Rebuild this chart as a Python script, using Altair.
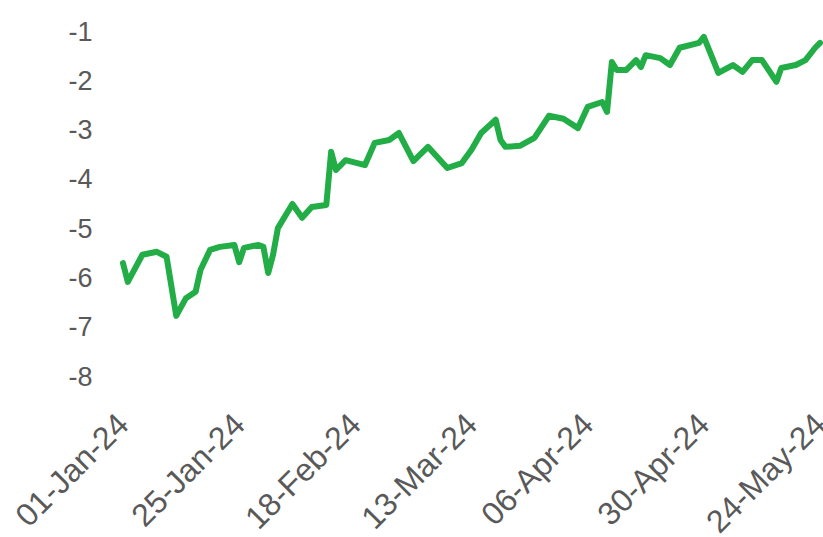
import altair as alt
import pandas as pd

dates = [
    "2024-01-01", "2024-01-02", "2024-01-05", "2024-01-08", "2024-01-10", "2024-01-12",
    "2024-01-14", "2024-01-16", "2024-01-17", "2024-01-19", "2024-01-21", "2024-01-24",
    "2024-01-25", "2024-01-26", "2024-01-29", "2024-01-30", "2024-01-31", "2024-02-01",
    "2024-02-02", "2024-02-05", "2024-02-07", "2024-02-09", "2024-02-12", "2024-02-13",
    "2024-02-14", "2024-02-16", "2024-02-20", "2024-02-22", "2024-02-25", "2024-02-27",
    "2024-03-01", "2024-03-04", "2024-03-08", "2024-03-11", "2024-03-13", "2024-03-15",
    "2024-03-18", "2024-03-19", "2024-03-20", "2024-03-23", "2024-03-26", "2024-03-29",
    "2024-04-01", "2024-04-04", "2024-04-06", "2024-04-09", "2024-04-10", "2024-04-11",
    "2024-04-12", "2024-04-14", "2024-04-16", "2024-04-17", "2024-04-18", "2024-04-21",
    "2024-04-23", "2024-04-25", "2024-04-29", "2024-04-30", "2024-05-03", "2024-05-06",
    "2024-05-08", "2024-05-10", "2024-05-12", "2024-05-15", "2024-05-16", "2024-05-19",
    "2024-05-21", "2024-05-23", "2024-05-24",
]

values = [
    -5.69, -6.07, -5.52, -5.46, -5.56, -6.76,
    -6.40, -6.27, -5.83, -5.42, -5.36, -5.32,
    -5.67, -5.38, -5.32, -5.36, -5.89, -5.52,
    -4.98, -4.49, -4.77, -4.55, -4.51, -3.43,
    -3.80, -3.60, -3.70, -3.25, -3.19, -3.05,
    -3.62, -3.33, -3.76, -3.66, -3.39, -3.05,
    -2.78, -3.19, -3.33, -3.31, -3.15, -2.70,
    -2.76, -2.95, -2.52, -2.42, -2.62, -1.61,
    -1.77, -1.77, -1.57, -1.71, -1.47, -1.53,
    -1.67, -1.32, -1.22, -1.10, -1.83, -1.67,
    -1.81, -1.57, -1.57, -2.01, -1.73, -1.67,
    -1.57, -1.32, -1.22,
]

tick_dates = ["2024-01-01", "2024-01-25", "2024-02-18", "2024-03-13",
              "2024-04-06", "2024-04-30", "2024-05-24"]
y_ticks = [-8, -7, -6, -5, -4, -3, -2, -1]

df = pd.DataFrame({"date": pd.to_datetime(dates), "value": values})

tick_vals = [alt.DateTime(year=int(d[:4]), month=int(d[5:7]), date=int(d[8:10])) for d in tick_dates]

font = "Liberation Sans"
label_color = "#595959"

chart = alt.Chart(df).mark_line(
    color="#22ad47", strokeWidth=6, strokeJoin="round", strokeCap="round"
).encode(
    x=alt.X(
        "date:T",
        scale=alt.Scale(domain=[alt.DateTime(year=2024, month=1, date=1),
                                alt.DateTime(year=2024, month=5, date=24)]),
        axis=alt.Axis(
            values=tick_vals, format="%d-%b-%y", labelAngle=-45,
            labelAlign="right", labelBaseline="middle", labelPadding=42,
            labelFontSize=32, labelFont=font, labelColor=label_color,
            ticks=False, domain=False, grid=False, title=None,
            labelOverlap=False, labelFlush=False, labelBound=False,
        ),
    ),
    y=alt.Y(
        "value:Q",
        scale=alt.Scale(domain=[-8, -1], nice=False, zero=False),
        axis=alt.Axis(
            values=y_ticks, labelExpr="datum.value + ''",
            labelFontSize=27, labelFont=font, labelColor=label_color,
            labelPadding=31, ticks=False, domain=False, grid=False, title=None,
            labelFlush=False,
        ),
    ),
).properties(
    width=697, height=345,
    background="white",
    autosize=alt.AutoSizeParams(type="none"),
    padding={"left": 123, "top": 32, "right": 3, "bottom": 160},
).configure_view(stroke=None, strokeWidth=0)

chart.save("out.html", embed_options={"renderer": "svg", "actions": False})
